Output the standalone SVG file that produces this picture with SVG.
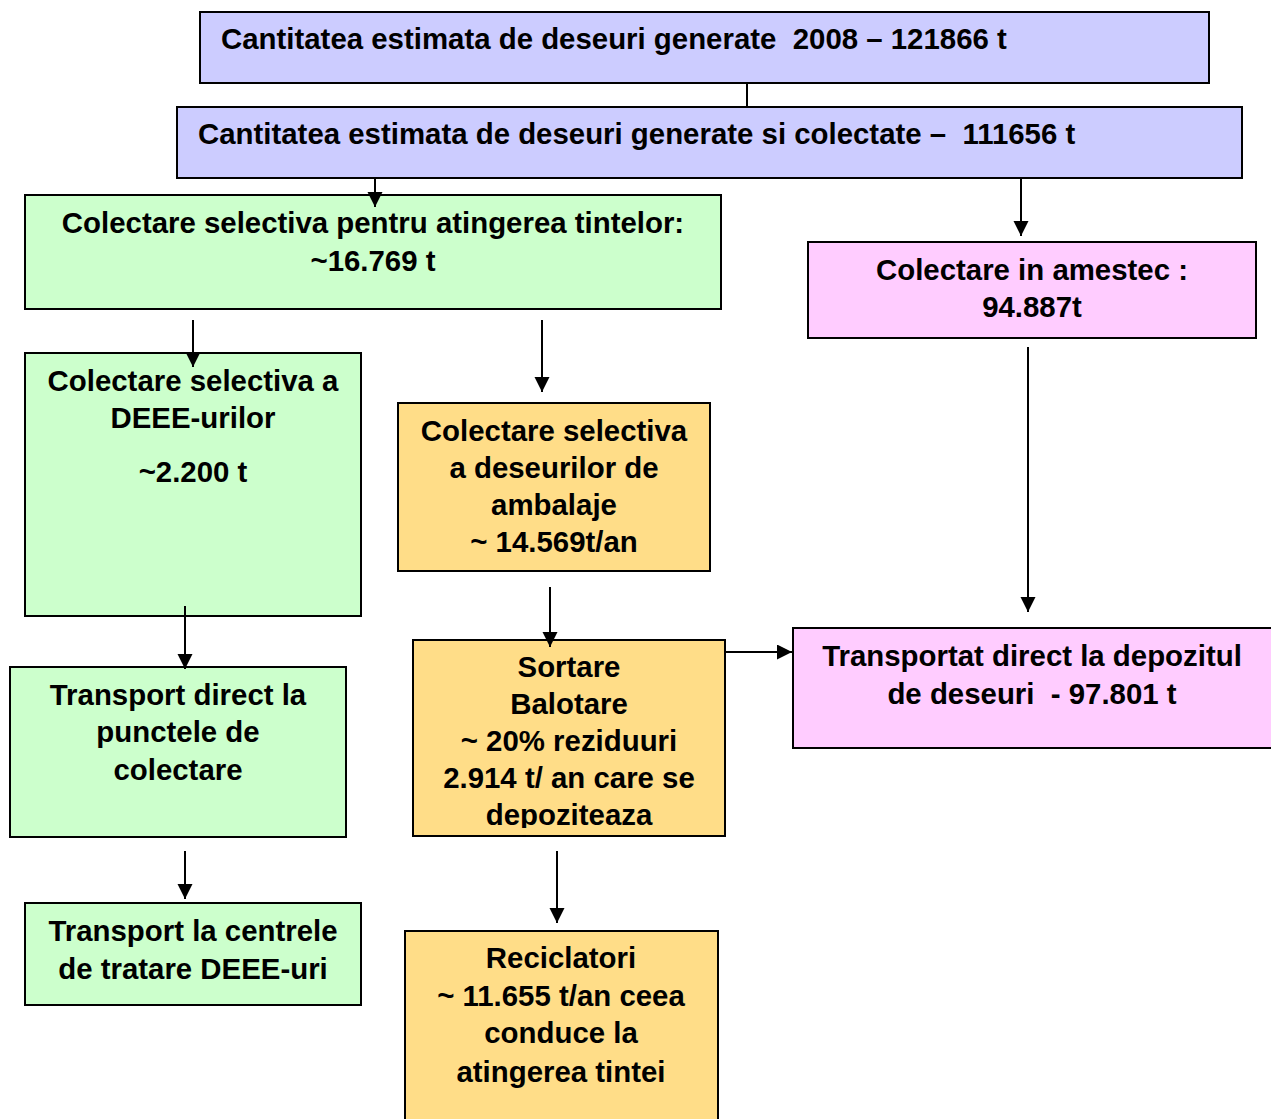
<svg xmlns="http://www.w3.org/2000/svg" width="1271" height="1119" viewBox="0 0 1271 1119">
<style>
.box{stroke:#000;stroke-width:2}
.blue{fill:#ccccff}.green{fill:#ccffcc}.pink{fill:#ffccff}.orange{fill:#ffdd88}
text{font-family:"Liberation Sans",Arial,sans-serif;font-weight:bold;font-size:29.4px;fill:#000;white-space:pre}
.c{text-anchor:middle}
.ln{stroke:#000;stroke-width:2;fill:none}
</style>
<defs>
<marker id="ah" markerUnits="userSpaceOnUse" markerWidth="16" markerHeight="16" refX="15" refY="7.5" orient="auto">
<path d="M0,0 L15,7.5 L0,15 Z" fill="#000"/>
</marker>
<clipPath id="clipG"><rect x="413" y="640" width="312" height="188"/></clipPath>
</defs>
<rect width="1271" height="1119" fill="#fff"/>
<g id="n1"><rect class="box blue" x="200" y="12" width="1009" height="71"/>
<text x="221" y="49" xml:space="preserve">Cantitatea estimata de deseuri generate  2008 – 121866 t</text></g>
<g id="n2"><rect class="box blue" x="177" y="107" width="1065" height="71"/>
<text x="198" y="144" xml:space="preserve">Cantitatea estimata de deseuri generate si colectate –  111656 t</text></g>
<g id="n3"><rect class="box green" x="25" y="195" width="696" height="114"/>
<text class="c" x="373" y="233">Colectare selectiva pentru atingerea tintelor:</text>
<text class="c" x="373" y="271">~16.769 t</text></g>
<g id="n4"><rect class="box pink" x="808" y="242" width="448" height="96"/>
<text class="c" x="1032" y="280">Colectare in amestec :</text>
<text class="c" x="1032" y="317">94.887t</text></g>
<g id="n5"><rect class="box green" x="25" y="353" width="336" height="263"/>
<text class="c" x="193" y="391">Colectare selectiva a</text>
<text class="c" x="193" y="428">DEEE-urilor</text>
<text class="c" x="193" y="482">~2.200 t</text></g>
<g id="n6"><rect class="box orange" x="398" y="403" width="312" height="168"/>
<text class="c" x="554" y="441">Colectare selectiva</text>
<text class="c" x="554" y="478">a deseurilor de</text>
<text class="c" x="554" y="515">ambalaje</text>
<text class="c" x="554" y="552">~ 14.569t/an</text></g>
<g id="n7"><rect class="box pink" x="793" y="628" width="480" height="120"/>
<text class="c" x="1032" y="666">Transportat direct la depozitul</text>
<text class="c" x="1032" y="704" xml:space="preserve">de deseuri  - 97.801 t</text></g>
<g id="n8"><rect class="box green" x="10" y="667" width="336" height="170"/>
<text class="c" x="178" y="705">Transport direct la</text>
<text class="c" x="178" y="742">punctele de</text>
<text class="c" x="178" y="780">colectare</text></g>
<g id="n9"><rect class="box orange" x="413" y="640" width="312" height="196"/>
<g clip-path="url(#clipG)">
<text class="c" x="569" y="677">Sortare</text>
<text class="c" x="569" y="714">Balotare</text>
<text class="c" x="569" y="751">~ 20% reziduuri</text>
<text class="c" x="569" y="788">2.914 t/ an care se</text>
<text class="c" x="569" y="825">depoziteaza</text></g></g>
<g id="n10"><rect class="box green" x="25" y="903" width="336" height="102"/>
<text class="c" x="193" y="941">Transport la centrele</text>
<text class="c" x="193" y="979">de tratare DEEE-uri</text></g>
<g id="n11"><rect class="box orange" x="405" y="931" width="313" height="200"/>
<text class="c" x="561" y="968">Reciclatori</text>
<text class="c" x="561" y="1006">~ 11.655 t/an ceea</text>
<text class="c" x="561" y="1043">conduce la</text>
<text class="c" x="561" y="1082">atingerea tintei</text></g>
<g id="connectors">
<line class="ln" x1="747" y1="83" x2="747" y2="107"/>
<line class="ln" x1="375" y1="178" x2="375" y2="207" marker-end="url(#ah)"/>
<line class="ln" x1="1021" y1="178" x2="1021" y2="236" marker-end="url(#ah)"/>
<line class="ln" x1="193" y1="320" x2="193" y2="367" marker-end="url(#ah)"/>
<line class="ln" x1="542" y1="320" x2="542" y2="392" marker-end="url(#ah)"/>
<line class="ln" x1="1028" y1="347" x2="1028" y2="612" marker-end="url(#ah)"/>
<line class="ln" x1="185" y1="606" x2="185" y2="669" marker-end="url(#ah)"/>
<line class="ln" x1="550" y1="587" x2="550" y2="647" marker-end="url(#ah)"/>
<line class="ln" x1="725" y1="652" x2="792" y2="652" marker-end="url(#ah)"/>
<line class="ln" x1="185" y1="851" x2="185" y2="899" marker-end="url(#ah)"/>
<line class="ln" x1="557" y1="851" x2="557" y2="923" marker-end="url(#ah)"/>
</g>
</svg>
